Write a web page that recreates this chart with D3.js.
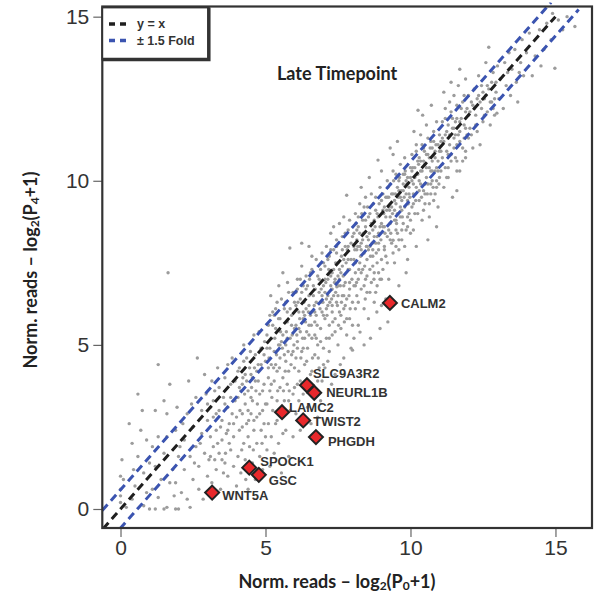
<!DOCTYPE html>
<html><head><meta charset="utf-8">
<script src="https://cdn.jsdelivr.net/npm/d3@7"></script>
<style>body{margin:0;background:#fff}</style>
</head><body><svg id="c" width="594" height="593"></svg>
<script>
const xTicks = [0, 5, 10, 15];
const yTicks = [0, 5, 10, 15];
const titleText = "Late Timepoint";
const legendLabels = ["y = x", "\u00b1 1.5 Fold"];
const genes = ["CALM2","SLC9A3R2","NEURL1B","LAMC2","TWIST2","PHGDH","SPOCK1","GSC","WNT5A"];
const geneP0 = [9.29, 6.43, 6.68, 5.57, 6.30, 6.74, 4.44, 4.77, 3.16];
const geneP4 = [6.28, 3.77, 3.54, 2.95, 2.70, 2.19, 1.26, 1.04, 0.50];
const foldOffset = Math.log2(1.5);
const refLineOffsets = [0, foldOffset, -foldOffset];
const refLineXStart = [-0.6, -0.63, -0.02];
const refLineXEnd = [15.0, 14.85, 15.8];
const bgPoints = [
[0,0.2],[0,0.6],[0,1],[0.05,1.5],[0,0.4],[0.1,0.9],[0.4,0.3],[0.45,1.2],[0.4,2],[0.5,0.7],[0.6,1.6],[0.7,2.4],[0.75,3],[0.8,0.1],[0.8,1.1],[0.9,0.5],[0.9,2.1],[1,1.4],[0.3,2.6],[0.6,3.5],[0.2,0.05],
[1.0,0],[1.2,0],[1.5,0],[1.6,0.05],[1.9,0],[2.0,0],[2.4,0.05],[2.3,0.3],[1.3,0.35],
[1.1,0.6],[1.2,1.3],[1.3,2.2],[1.4,0.9],[1.5,1.7],[1.6,2.9],[1.7,3.8],[1.8,1.2],[1.85,0.4],[1.9,2.4],[2,1.6],[1.5,3.3],[1.2,3.0],[1.7,0.8],[1.64,7.2],[1.3,4.4],[1.95,3.1],[1.1,1.9],[1.6,2.2],[1.9,0.8],
[2.1,0.5],[2.2,1.2],[2.2,2.1],[2.3,2.9],[2.35,3.9],[2.4,1.6],[2.5,0.9],[2.5,2.5],[2.6,3.4],[2.6,1.9],[2.7,1.3],[2.7,0.6],[2.8,2.3],[2.8,3.0],[2.9,1.7],[2.9,4.1],[3.0,2.7],[3.0,1.0],[2.45,3.2],[2.15,2.6],[2.55,1.4],[2.75,2.0],[2.95,3.5],[2.05,1.9],[2.65,4.6],[2.85,0.3],
[3.05,1.5],[3.1,2.2],[3.1,3.1],[3.15,0.8],[3.2,1.9],[3.2,2.8],[3.25,3.6],[3.3,1.2],[3.3,2.4],[3.35,4.3],[3.4,1.7],[3.4,3.0],[3.45,0.6],[3.5,2.1],[3.5,2.7],[3.55,3.4],[3.6,1.4],[3.6,4.0],[3.65,2.3],[3.7,1.0],[3.7,3.1],[3.75,2.6],[3.8,1.8],[3.8,3.8],[3.85,4.6],[3.9,2.2],[3.9,1.3],[3.95,3.3],[4.0,2.8],[4.0,0.7],[3.35,2.0],[3.55,1.1],[3.15,3.9],[3.75,2.0],[3.85,2.9],[3.45,2.5],[3.62,1.7],[3.95,3.9],[3.25,1.5],[3.7,4.4],
[3.1,1.6],[3.3,2.9],[3.5,1.5],[3.7,2.4],[3.9,2.6],[3.2,3.3],[3.6,3.2],[3.8,3.4],[3.4,3.7],[3.0,3.2],
[4.05,1.6],[4.05,3.4],[4.1,2.4],[4.1,4.3],[4.15,1.1],[4.2,2.9],[4.2,3.8],[4.25,2.0],[4.25,5.0],[4.3,1.5],[4.3,3.2],[4.35,2.6],[4.35,4.6],[4.4,0.6],[4.4,2.2],[4.4,3.6],[4.45,1.9],[4.5,2.9],[4.5,4.1],[4.55,1.4],[4.55,3.3],[4.6,2.4],[4.6,5.3],[4.65,0.9],[4.65,3.9],[4.7,2.0],[4.7,2.8],[4.75,4.4],[4.8,1.6],[4.8,3.5],[4.85,2.4],[4.85,4.9],[4.9,3.0],[4.9,1.2],[4.95,3.8],[5.0,2.2],[5.0,4.5],[4.12,3.0],[4.28,3.5],[4.42,2.7],[4.58,1.8],[4.72,3.2],[4.88,2.0],[4.48,4.8],[4.18,1.8],[4.62,4.3],[4.78,5.4],[4.95,2.6],[4.32,0.9],[4.83,1.0],[4.52,3.7],[4.67,3.6],[4.22,4.0],[4.97,5.1],
[4.05,4.2],[4.15,3.6],[4.25,4.5],[4.35,3.9],[4.45,4.3],[4.55,4.0],[4.65,4.7],[4.75,3.9],[4.85,4.4],[4.95,4.7],[4.1,3.7],[4.3,4.1],[4.5,3.4],[4.7,4.2],[4.9,3.6],[4.2,2.5],[4.4,3.0],[4.6,2.7],[4.8,2.9],[5.0,3.2],
[5.05,1.8],[5.05,3.2],[5.05,4.9],[5.1,2.6],[5.1,4.0],[5.1,5.6],[5.15,1.3],[5.15,3.6],[5.2,2.2],[5.2,4.4],[5.2,5.2],[5.25,3.0],[5.25,6.0],[5.3,1.7],[5.3,3.9],[5.3,4.8],[5.35,2.6],[5.35,5.5],[5.4,3.3],[5.4,4.2],[5.4,6.3],[5.45,2.0],[5.45,5.0],[5.5,3.7],[5.5,4.6],[5.5,5.8],[5.55,2.8],[5.55,1.1],[5.6,4.0],[5.6,5.3],[5.6,7.2],[5.65,3.3],[5.65,6.1],[5.7,2.4],[5.7,4.5],[5.7,5.0],[5.75,3.8],[5.75,5.7],[5.8,1.6],[5.8,4.2],[5.8,6.6],[5.84,7.95],[5.85,3.0],[5.85,5.2],[5.9,4.7],[5.9,5.9],[5.95,2.2],[5.95,3.5],[6.0,4.3],[6.0,5.5],[6.0,6.3],[5.12,4.6],[5.28,4.3],[5.38,4.7],[5.48,4.3],[5.58,4.9],[5.68,4.2],[5.78,4.8],[5.88,4.4],[5.98,5.0],[5.22,3.4],[5.42,3.6],[5.62,3.6],[5.82,3.6],[5.32,5.2],[5.52,5.4],[5.72,5.4],[5.92,5.3],[5.18,6.5],[5.46,6.8],[5.76,6.9],
[5.05,5.3],[5.15,4.9],[5.25,5.6],[5.35,4.4],[5.45,5.8],[5.55,5.1],[5.65,4.7],[5.75,5.2],[5.85,6.1],[5.95,4.8],[5.1,4.3],[5.3,5.9],[5.5,5.0],[5.7,6.3],[5.9,5.6],[5.2,3.8],[5.4,2.7],[5.6,2.3],[5.8,3.3],[6.0,3.7],[5.15,5.9],[5.35,6.1],[5.55,6.4],[5.75,6.0],[5.95,6.6],
[6.05,2.9],[6.05,4.6],[6.05,5.6],[6.05,6.6],[6.1,3.8],[6.1,5.1],[6.1,7.0],[6.15,4.2],[6.15,6.0],[6.2,2.4],[6.2,5.4],[6.2,6.4],[6.25,4.8],[6.25,7.4],[6.3,3.5],[6.3,5.8],[6.3,6.8],[6.35,4.4],[6.35,5.2],[6.4,6.1],[6.4,7.1],[6.45,3.1],[6.45,4.9],[6.5,5.6],[6.5,6.5],[6.5,8.0],[6.55,4.1],[6.55,7.2],[6.6,5.2],[6.6,6.0],[6.65,3.6],[6.65,6.8],[6.7,4.7],[6.7,5.7],[6.75,7.6],[6.75,6.3],[6.8,2.8],[6.8,5.0],[6.85,6.6],[6.85,4.3],[6.9,5.5],[6.9,7.3],[6.95,6.0],[6.95,3.9],[7.0,4.9],[7.0,6.8],[7.0,5.9],[6.08,5.3],[6.18,5.8],[6.28,5.2],[6.38,5.7],[6.48,6.0],[6.58,5.6],[6.68,6.2],[6.78,5.6],[6.88,6.1],[6.98,6.3],[6.12,6.3],[6.32,6.3],[6.52,7.0],[6.72,6.7],[6.92,6.7],[6.22,4.6],[6.42,4.5],[6.62,4.6],[6.82,4.6],[6.15,3.3],[6.57,2.6],[6.9,3.3],[6.42,5.4],[6.75,5.2],[6.25,8.1],[6.6,7.7],[7.0,7.5],
[6.05,6.2],[6.15,5.5],[6.25,6.6],[6.35,5.9],[6.45,6.8],[6.55,5.9],[6.65,6.5],[6.75,5.9],[6.85,7.0],[6.95,6.5],[6.1,6.7],[6.3,6.0],[6.5,6.2],[6.7,6.0],[6.9,6.3],[6.1,4.9],[6.3,4.9],[6.5,5.3],[6.7,5.3],[6.9,5.1],[6.2,3.9],[6.4,3.7],[6.6,4.2],[6.8,3.9],[7.0,4.4],[6.2,7.0],[6.4,6.7],[6.6,7.3],[6.8,7.1],[6.95,7.8],
[7.05,4.3],[7.05,5.8],[7.05,6.6],[7.05,7.4],[7.1,5.2],[7.1,8.0],[7.15,6.2],[7.15,7.0],[7.15,6.5],[7.2,4.8],[7.2,5.6],[7.2,7.7],[7.25,6.8],[7.25,8.4],[7.3,6.0],[7.3,7.2],[7.3,5.3],[7.35,6.5],[7.35,7.9],[7.4,4.1],[7.4,5.8],[7.4,7.0],[7.45,6.3],[7.45,8.2],[7.5,5.0],[7.5,6.8],[7.5,7.5],[7.55,6.0],[7.55,8.7],[7.6,5.5],[7.6,7.2],[7.65,6.5],[7.65,7.9],[7.7,4.6],[7.7,6.1],[7.7,7.6],[7.75,6.9],[7.75,8.4],[7.8,5.3],[7.8,9.56],[7.8,6.4],[7.85,7.3],[7.85,8.0],[7.9,5.8],[7.9,6.9],[7.95,7.6],[7.95,4.9],[8.0,6.3],[8.0,8.3],[7.08,6.9],[7.18,7.3],[7.28,6.4],[7.38,6.9],[7.48,6.2],[7.58,6.8],[7.68,7.1],[7.78,7.5],[7.88,6.5],[7.98,7.0],[7.12,5.9],[7.32,5.7],[7.52,5.6],[7.72,5.7],[7.92,6.1],[7.22,6.3],[7.42,7.5],[7.62,7.7],[7.82,7.9],[7.42,6.6],[7.62,6.3],[7.58,4.4],[7.46,6.77],[7.28,3.8],[7.7,8.9],[7.35,8.6],[7.9,8.8],[7.55,7.0],[7.75,6.2],
[7.05,7.0],[7.15,7.6],[7.25,7.1],[7.35,7.3],[7.45,7.8],[7.55,7.3],[7.65,7.4],[7.75,8.0],[7.85,7.6],[7.95,8.1],[7.1,6.4],[7.3,6.7],[7.5,7.1],[7.7,6.8],[7.9,7.3],[7.1,6.1],[7.3,6.2],[7.5,6.5],[7.7,6.5],[7.9,6.7],[7.2,5.2],[7.4,5.4],[7.6,5.9],[7.8,5.8],[8.0,5.6],[7.25,7.9],[7.45,8.0],[7.65,8.3],[7.85,8.5],[7.15,4.5],
[8.05,5.2],[8.05,6.8],[8.05,7.6],[8.05,8.4],[8.1,6.1],[8.1,7.2],[8.1,9.0],[8.15,7.9],[8.15,6.5],[8.2,5.6],[8.2,7.0],[8.2,8.6],[8.25,7.5],[8.25,9.3],[8.26,5.39],[8.3,6.7],[8.3,8.1],[8.35,7.3],[8.35,8.8],[8.4,6.1],[8.4,7.8],[8.45,7.0],[8.45,9.5],[8.5,6.6],[8.5,8.3],[8.5,7.6],[8.55,8.9],[8.55,5.8],[8.6,7.3],[8.6,8.0],[8.65,6.9],[8.65,9.6],[8.7,7.7],[8.7,8.5],[8.75,6.3],[8.75,7.2],[8.8,8.1],[8.8,9.1],[8.85,7.5],[8.85,6.8],[8.88,10.63],[8.9,8.4],[8.9,7.9],[8.95,9.8],[8.95,7.0],[9.0,8.7],[9.0,7.6],[9.0,6.2],[8.08,7.9],[8.18,8.0],[8.28,7.7],[8.38,8.4],[8.48,8.0],[8.58,8.4],[8.68,8.1],[8.78,8.6],[8.88,8.9],[8.98,8.2],[8.12,8.7],[8.32,9.0],[8.52,9.2],[8.72,9.3],[8.92,9.3],[8.22,7.3],[8.42,7.4],[8.62,7.7],[8.82,7.8],[8.14,6.9],[8.44,6.4],[8.74,7.0],[8.58,10.1],[8.3,9.8],[8.62,5.2],[8.84,6.0],[8.0,4.84],[8.4,5.0],[8.95,5.5],[8.15,8.2],[8.45,8.6],[8.75,8.8],[8.25,8.4],[8.55,7.9],[8.85,8.3],
[8.05,8.0],[8.15,8.5],[8.25,8.0],[8.35,8.2],[8.45,8.8],[8.55,8.2],[8.65,8.7],[8.75,8.3],[8.85,9.0],[8.95,8.6],[8.1,7.5],[8.3,7.9],[8.5,8.0],[8.7,7.9],[8.9,8.1],[8.1,6.8],[8.3,7.2],[8.5,7.1],[8.7,7.4],[8.9,7.2],[8.2,6.3],[8.4,6.8],[8.6,6.6],[8.8,6.6],[9.0,7.0],[8.2,8.9],[8.4,9.2],[8.6,9.0],[8.8,9.5],[9.0,9.4],
[9.05,7.3],[9.05,8.6],[9.05,9.6],[9.1,8.0],[9.1,9.2],[9.15,7.7],[9.15,8.9],[9.2,10.0],[9.2,8.3],[9.22,5.7],[9.25,9.5],[9.25,7.0],[9.3,8.7],[9.3,9.9],[9.35,8.1],[9.35,9.2],[9.4,10.8],[9.4,8.19],[9.4,9.6],[9.45,8.8],[9.45,7.5],[9.5,9.3],[9.5,10.2],[9.55,8.4],[9.55,9.0],[9.6,9.7],[9.6,7.9],[9.65,8.9],[9.65,10.5],[9.7,9.4],[9.7,8.2],[9.75,9.9],[9.75,8.7],[9.8,9.2],[9.8,10.7],[9.85,8.5],[9.85,9.6],[9.9,10.1],[9.9,7.6],[9.95,9.0],[9.95,9.8],[10.0,8.8],[10.0,10.4],[9.08,9.0],[9.18,9.1],[9.28,9.1],[9.38,9.0],[9.48,9.6],[9.58,9.5],[9.68,9.7],[9.78,9.5],[9.88,9.9],[9.98,9.5],[9.12,8.4],[9.32,8.4],[9.52,8.7],[9.72,8.9],[9.92,9.3],[9.22,9.8],[9.42,10.0],[9.62,10.1],[9.82,10.3],[9.15,6.4],[9.6,6.8],[9.85,7.2],[9.3,11.0],[9.55,11.2],[9.0,10.3],[9.5,8.0],[9.75,10.2],[9.45,9.4],[9.25,8.5],[9.65,9.2],[9.9,8.6],
[9.05,9.1],[9.15,9.5],[9.25,9.2],[9.35,9.6],[9.45,9.1],[9.55,9.8],[9.65,9.5],[9.75,9.7],[9.85,10.0],[9.95,9.6],[9.1,8.6],[9.3,8.9],[9.5,8.8],[9.7,9.1],[9.9,9.4],[9.1,7.9],[9.3,8.2],[9.5,8.5],[9.7,8.5],[9.9,8.9],[9.2,7.5],[9.4,7.8],[9.6,8.2],[9.8,8.0],[10.0,8.4],[9.2,9.5],[9.4,10.3],[9.6,10.0],[9.8,10.2],[10.0,10.1],
[10.05,9.2],[10.05,10.0],[10.05,10.8],[10.1,9.6],[10.1,8.5],[10.15,10.4],[10.15,9.0],[10.2,11.1],[10.2,9.8],[10.25,10.2],[10.26,12.15],[10.3,9.4],[10.3,10.7],[10.35,9.9],[10.35,11.4],[10.4,10.3],[10.4,8.8],[10.45,9.7],[10.45,11.0],[10.5,10.5],[10.5,9.3],[10.55,10.1],[10.55,11.7],[10.6,9.9],[10.6,10.8],[10.65,10.4],[10.65,8.9],[10.7,11.2],[10.7,9.6],[10.75,10.6],[10.75,10.0],[10.8,11.5],[10.8,9.4],[10.85,10.9],[10.85,10.3],[10.9,9.8],[10.9,11.8],[10.95,10.6],[10.95,9.2],[11.0,10.9],[11.0,10.1],[10.08,10.4],[10.28,10.5],[10.48,10.9],[10.68,11.0],[10.88,11.1],[10.18,9.4],[10.38,9.5],[10.58,9.6],[10.78,9.8],[10.98,9.9],[10.12,11.5],[10.42,12.0],[10.72,12.3],[10.2,8.0],[10.6,8.2],[10.9,8.6],[10.35,10.6],[10.55,10.4],[10.75,10.3],[10.95,10.3],
[10.05,10.3],[10.15,10.1],[10.25,10.6],[10.35,10.3],[10.45,10.6],[10.55,10.8],[10.65,10.7],[10.75,11.0],[10.85,10.7],[10.95,11.1],[10.1,9.9],[10.3,10.0],[10.5,9.9],[10.7,10.3],[10.9,10.4],[10.1,9.3],[10.3,9.7],[10.5,9.6],[10.7,9.9],[10.9,10.0],[10.2,10.9],[10.4,11.1],[10.6,11.3],[10.8,11.2],[11.0,11.4],[10.25,9.0],[10.45,9.1],[10.65,9.3],[10.85,9.6],
[11.05,10.3],[11.05,11.2],[11.1,11.8],[11.1,10.7],[11.15,9.8],[11.2,11.4],[11.2,12.2],[11.25,10.9],[11.3,11.7],[11.3,10.4],[11.35,12.4],[11.35,11.1],[11.4,10.8],[11.45,11.9],[11.45,9.5],[11.5,11.3],[11.5,12.6],[11.55,10.7],[11.6,11.9],[11.6,11.1],[11.65,12.9],[11.7,11.5],[11.7,10.3],[11.7,13.4],[11.75,12.2],[11.8,11.0],[11.85,11.7],[11.85,12.6],[11.9,10.7],[11.95,11.4],[12.0,12.0],[12.0,11.3],[11.1,11.3],[11.3,11.3],[11.5,11.6],[11.7,11.8],[11.9,12.1],[11.2,10.4],[11.4,10.6],[11.6,10.6],[11.8,10.6],[11.15,12.7],[11.4,13.0],[11.9,13.1],[11.6,9.7],[11.25,10.1],[11.55,11.4],
[11.05,10.9],[11.15,11.2],[11.25,11.5],[11.35,11.4],[11.45,11.6],[11.55,11.8],[11.65,11.4],[11.75,11.9],[11.85,11.3],[11.95,12.2],[11.1,10.5],[11.3,10.8],[11.5,11.0],[11.7,11.2],[11.9,11.6],[11.2,11.9],[11.4,12.1],[11.6,12.3],[11.8,12.4],[12.0,12.6],[11.3,10.1],[11.6,10.3],[11.9,10.9],
[12.05,11.6],[12.1,12.4],[12.15,11.0],[12.2,12.8],[12.25,12.0],[12.3,11.5],[12.35,13.2],[12.4,11.1],[12.4,12.4],[12.45,12.9],[12.5,11.8],[12.55,12.5],[12.6,13.6],[12.65,12.1],[12.7,14.07],[12.7,12.8],[12.75,11.7],[12.8,12.4],[12.85,13.3],[12.9,12.0],[12.95,12.7],[12.98,12.06],[13.0,13.5],[12.2,12.2],[12.6,12.6],[12.3,12.5],[12.8,13.0],
[12.05,12.1],[12.15,12.3],[12.25,11.7],[12.35,12.6],[12.45,12.2],[12.55,12.0],[12.65,12.9],[12.75,12.4],[12.85,12.2],[12.95,13.0],[12.1,11.4],[12.5,12.7],[12.9,12.5],
[13.05,12.5],[13.1,13.1],[13.2,12.2],[13.25,13.6],[13.3,12.9],[13.4,13.9],[13.45,12.6],[13.5,13.4],[13.6,14.0],[13.65,13.0],[13.7,12.4],[13.8,13.6],[13.85,14.3],[13.9,13.2],[14.0,13.9],[13.35,13.3],[13.75,13.3],
[14.1,14.5],[14.2,13.2],[14.3,13.8],[14.45,14.6],[14.6,14.0],[14.7,14.8],[14.85,14.3],[14.98,13.43],[15.1,14.9],[15.25,14.6],[15.67,14.7],[14.5,13.5],[15.4,15.0],[14.9,15.1]
];

const svg = d3.select("#c");
const L = 102.3, R = 592, T = 6.5, B = 528;
const x = d3.scaleLinear().domain([-0.628, 16.26]).range([L, R]);
const y = d3.scaleLinear().domain([-0.579, 15.31]).range([B, T]);

svg.append("defs").append("clipPath").attr("id","clip")
  .append("rect").attr("x", L).attr("y", T - 4).attr("width", R - L).attr("height", B - T + 4);

const tickFont = "'Liberation Sans', Arial, sans-serif";
const xa = svg.append("g").attr("transform", `translate(0,${B})`)
  .call(d3.axisBottom(x).tickValues(xTicks).tickSize(9).tickPadding(3).tickFormat(d3.format("d")));
const ya = svg.append("g").attr("transform", `translate(${L},0)`)
  .call(d3.axisLeft(y).tickValues(yTicks).tickSize(9).tickPadding(4).tickFormat(d3.format("d")));
[xa, ya].forEach(g => {
  g.select(".domain").remove();
  g.selectAll("line").attr("stroke", "#666").attr("stroke-width", 1.2);
  g.selectAll("text").attr("font-family", tickFont).attr("font-size", 21).attr("fill", "#333");
});

const plot = svg.append("g").attr("clip-path", "url(#clip)");
plot.selectAll("circle.bg").data(bgPoints).join("circle").attr("class","bg")
  .attr("cx", d => x(d[0])).attr("cy", d => y(d[1])).attr("r", 1.7).attr("fill", "#9c9c9c");

const lineColors = ["#1f1f1f", "#3b54b0", "#3b54b0"];
refLineOffsets.forEach((off, i) => {
  const pts = [[refLineXStart[i], refLineXStart[i] + off], [refLineXEnd[i], refLineXEnd[i] + off]];
  plot.append("path").attr("d", d3.line().x(d => x(d[0])).y(d => y(d[1]))(pts))
    .attr("fill", "none").attr("stroke", lineColors[i]).attr("stroke-width", 3)
    .attr("stroke-dasharray", "8,5");
});

svg.append("rect").attr("x", L).attr("y", T).attr("width", R - L).attr("height", B - T)
  .attr("fill", "none").attr("stroke", "#333").attr("stroke-width", 2.2);

const geneData = genes.map((g, i) => ({ g, x: geneP0[i], y: geneP4[i] }));
const labelDx = [11, 6, 12, 7, 10, 12, 11, 10, 10];
const labelDy = [1, -12, 0, -5, 1, 4, -6, 6, 3];
const ds = 7;
svg.selectAll("path.gene").data(geneData).join("path").attr("class","gene")
  .attr("d", d => { const cx = x(d.x), cy = y(d.y); return `M${cx},${cy-ds}L${cx+ds},${cy}L${cx},${cy+ds}L${cx-ds},${cy}Z`; })
  .attr("fill", "#e8282b").attr("stroke", "#222").attr("stroke-width", 2);
svg.selectAll("text.gene").data(geneData).join("text").attr("class","gene")
  .attr("x", (d, i) => x(d.x) + labelDx[i]).attr("y", (d, i) => y(d.y) + labelDy[i])
  .attr("dominant-baseline", "central")
  .attr("font-family", tickFont).attr("font-weight", "bold").attr("font-size", 13).attr("fill", "#333")
  .text(d => d.g);

const labFont = "Lato, 'Open Sans', sans-serif";
svg.append("text").attr("x", 277).attr("y", 73).attr("dominant-baseline", "central")
  .attr("font-family", labFont).attr("font-weight", "bold").attr("font-size", 18).attr("fill", "#222")
  .text(titleText);

function axisTitle(sel, sub) {
  sel.append("tspan").text("Norm. reads \u2013 log");
  sel.append("tspan").attr("font-size", 12).attr("dy", 4).text("2");
  sel.append("tspan").attr("dy", -4).text("(P");
  sel.append("tspan").attr("font-size", 12).attr("dy", 4).text(sub);
  sel.append("tspan").attr("dy", -4).text("+1)");
}
const xt = svg.append("text").attr("x", 337).attr("y", 581).attr("text-anchor", "middle")
  .attr("dominant-baseline", "central")
  .attr("font-family", labFont).attr("font-weight", "bold").attr("font-size", 18).attr("fill", "#222");
axisTitle(xt, "0");
const yt = svg.append("text").attr("transform", "translate(30,270) rotate(-90)").attr("text-anchor", "middle")
  .attr("dominant-baseline", "central")
  .attr("font-family", labFont).attr("font-weight", "bold").attr("font-size", 18).attr("fill", "#222");
axisTitle(yt, "4");

const lg = svg.append("g");
lg.append("rect").attr("x", L).attr("y", T + 1).attr("width", 106.5).attr("height", 52)
  .attr("fill", "#fff").attr("stroke", "#333").attr("stroke-width", 1.8);
lg.append("path").attr("d", `M${L+106.5},${T+1}V${T+53}H${L}`).attr("fill", "none")
  .attr("stroke", "#333").attr("stroke-width", 3.5);
legendLabels.forEach((t, i) => {
  const yy = 24 + i * 16.5;
  lg.append("line").attr("x1", 109).attr("x2", 129).attr("y1", yy).attr("y2", yy)
    .attr("stroke", lineColors[i === 0 ? 0 : 1]).attr("stroke-width", 3.5).attr("stroke-dasharray", "6,5");
  lg.append("text").attr("x", 137).attr("y", yy).attr("dominant-baseline", "central")
    .attr("font-family", tickFont).attr("font-weight", "bold").attr("font-size", 12.5).attr("fill", "#333")
    .text(t);
});
</script></body></html>
